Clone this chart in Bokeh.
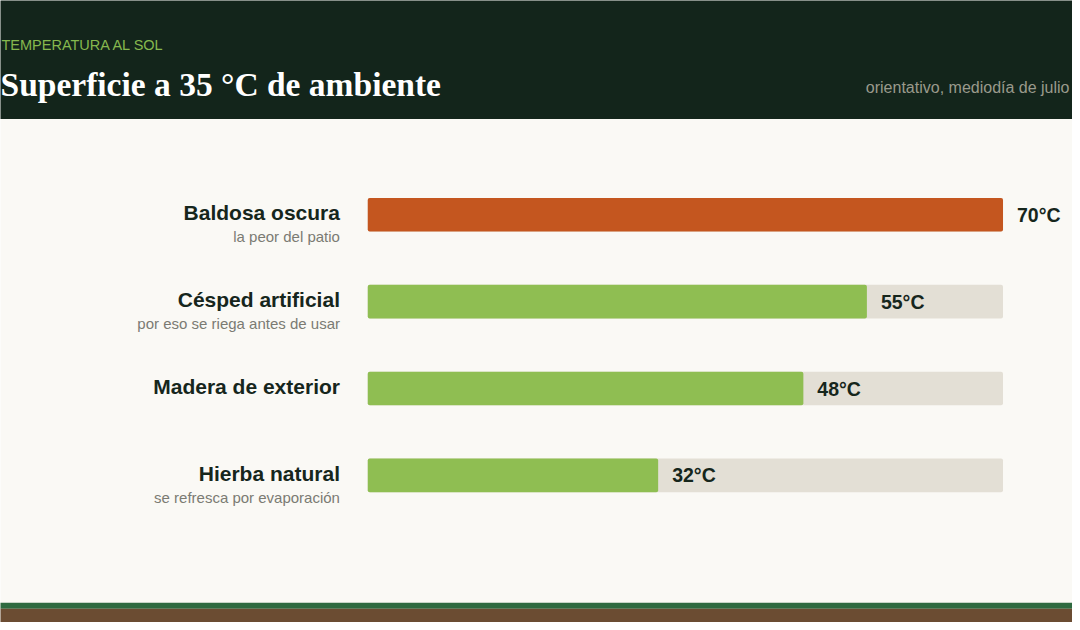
from bokeh.plotting import figure
from bokeh.models import Range1d, ColumnDataSource
from bokeh.core.properties import value
from bokeh.embed import file_html
from bokeh.resources import INLINE

# ---- data ----
categories = ["Baldosa oscura", "Césped artificial", "Madera de exterior", "Hierba natural"]
notes = ["la peor del patio", "por eso se riega antes de usar", "", "se refresca por evaporación"]
temps = [70, 55, 48, 32]
track_max = 70
kicker = "TEMPERATURA AL SOL"
title = "Superficie a 35 °C de ambiente"
subtitle = "orientativo, mediodía de julio"

# ---- colours ----
BG = "#faf9f5"
HEADER = "#13251b"
GREEN = "#8fbe52"
HOT = "#c4561f"
TRACK = "#e3dfd5"
INK = "#16261c"
MUTED = "#7b7b73"

W, H = 1072, 622
K = 640 / 70          # reference px per °C
ROW = 88              # reference px per row
TXT = 7               # baseline correction (px)
def px(rx):
    return (rx - 370) / K
def py(ry):
    return (ry - 217) / ROW

p = figure(width=W, height=H, output_backend="svg", toolbar_location=None,
           x_range=Range1d(px(0), px(1080)), y_range=Range1d(py(630), py(0)),
           min_border=0, outline_line_color=None, background_fill_color=BG,
           border_fill_color=HEADER)
p.axis.visible = False
p.grid.visible = False

# header band and bottom stripes
p.quad(left=[px(-20)], right=[px(1100)], top=[py(-20)], bottom=[py(120)],
       fill_color=HEADER, line_color=None)
p.quad(left=[px(-20)], right=[px(1100)], top=[py(610)], bottom=[py(616)],
       fill_color="#2e6a40", line_color=None)
p.quad(left=[px(-20)], right=[px(1100)], top=[py(616)], bottom=[py(650)],
       fill_color="#6b4c32", line_color=None)

p.text(x=[px(1)], y=[py(52 - TXT)], text=[kicker], text_font=value("Liberation Sans"),
       text_font_size="14.5px", text_color="#86b84e", text_baseline="alphabetic")
p.text(x=[px(0)], y=[py(92 - TXT)], text=[title], text_font=value("Liberation Serif"),
       text_font_style="bold", text_font_size="33.5px", text_color="#ffffff",
       text_baseline="alphabetic")
p.text(x=[px(1077)], y=[py(95 - TXT)], text=[subtitle], text_font=value("Liberation Sans"),
       text_font_size="16px", text_color="#9a9a8c", text_align="right",
       text_baseline="alphabetic")

rows = list(range(len(categories)))
src = ColumnDataSource(dict(
    row=rows,
    temp=temps,
    track=[track_max] * len(temps),
    color=[HOT if i == 0 else GREEN for i in rows],
    cat=categories,
    note=notes,
    vlabel=[f"{t}°C" for t in temps],
    cat_y=[r + (5 - TXT) / ROW for r in rows],
    note_y=[r + (29 - TXT) / ROW for r in rows],
    val_y=[r + (7 - TXT) / ROW for r in rows],
))

bh = 34 / ROW
p.hbar(y="row", left=0, right="track", height=bh, fill_color=TRACK, line_color=None,
       border_radius=2, source=src)
p.hbar(y="row", left=0, right="temp", height=bh, fill_color="color", line_color=None,
       border_radius=2, source=src)

p.text(x=px(342), y="cat_y", text="cat", source=src, text_font=value("Liberation Sans"),
       text_font_style="bold", text_font_size="21px", text_color=INK,
       text_align="right", text_baseline="alphabetic")
p.text(x=px(342), y="note_y", text="note", source=src, text_font=value("Liberation Sans"),
       text_font_size="15px", text_color=MUTED, text_align="right",
       text_baseline="alphabetic")
p.text(x="temp", y="val_y", text="vlabel", source=src, x_offset=14,
       text_font=value("Liberation Sans"), text_font_style="bold",
       text_font_size="19.5px", text_color=INK, text_baseline="alphabetic")

open("out.html", "w").write(file_html(p, INLINE))
